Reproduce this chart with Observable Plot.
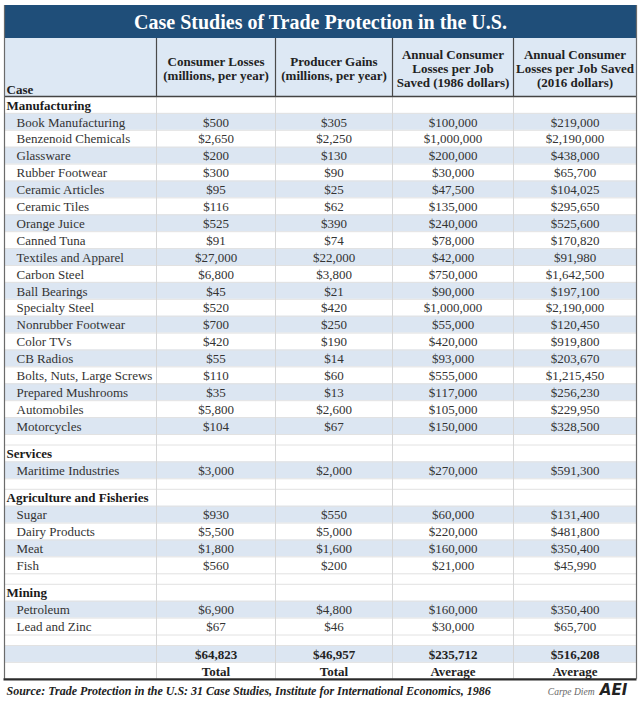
<!DOCTYPE html>
<html><head><meta charset="utf-8">
<script src="https://cdn.jsdelivr.net/npm/d3@7"></script>
<script src="https://cdn.jsdelivr.net/npm/@observablehq/plot@0.6"></script>
<style>body{margin:0;background:#fff} svg{display:block}</style>
</head><body><div id="chart"></div>
<script>
// ---------- data ----------
const chartTitle = "Case Studies of Trade Protection in the U.S.";
const caseHeader = "Case";
const columnHeaders = [
  "Consumer Losses\n(millions, per year)",
  "Producer Gains\n(millions, per year)",
  "Annual Consumer\nLosses per Job\nSaved (1986 dollars)",
  "Annual Consumer\nLosses per Job Saved\n(2016 dollars)"
];
const categories = ["Manufacturing", "Services", "Agriculture and Fisheries", "Mining"];
const caseNames = [
  "Book Manufacturing", "Benzenoid Chemicals", "Glassware", "Rubber Footwear", "Ceramic Articles",
  "Ceramic Tiles", "Orange Juice", "Canned Tuna", "Textiles and Apparel", "Carbon Steel",
  "Ball Bearings", "Specialty Steel", "Nonrubber Footwear", "Color TVs", "CB Radios",
  "Bolts, Nuts, Large Screws", "Prepared Mushrooms", "Automobiles", "Motorcycles",
  "Maritime Industries",
  "Sugar", "Dairy Products", "Meat", "Fish",
  "Petroleum", "Lead and Zinc"
];
const caseCategory = [
  "Manufacturing","Manufacturing","Manufacturing","Manufacturing","Manufacturing",
  "Manufacturing","Manufacturing","Manufacturing","Manufacturing","Manufacturing",
  "Manufacturing","Manufacturing","Manufacturing","Manufacturing","Manufacturing",
  "Manufacturing","Manufacturing","Manufacturing","Manufacturing",
  "Services",
  "Agriculture and Fisheries","Agriculture and Fisheries","Agriculture and Fisheries","Agriculture and Fisheries",
  "Mining","Mining"
];
const consumerLosses = [500, 2650, 200, 300, 95, 116, 525, 91, 27000, 6800, 45, 520, 700, 420, 55, 110, 35, 5800, 104,
  3000, 930, 5500, 1800, 560, 6900, 67];
const producerGains = [305, 2250, 130, 90, 25, 62, 390, 74, 22000, 3800, 21, 420, 250, 190, 14, 60, 13, 2600, 67,
  2000, 550, 5000, 1600, 200, 4800, 46];
const lossPerJob1986 = [100000, 1000000, 200000, 30000, 47500, 135000, 240000, 78000, 42000, 750000, 90000, 1000000,
  55000, 420000, 93000, 555000, 117000, 105000, 150000,
  270000, 60000, 220000, 160000, 21000, 160000, 30000];
const lossPerJob2016 = [219000, 2190000, 438000, 65700, 104025, 295650, 525600, 170820, 91980, 1642500, 197100, 2190000,
  120450, 919800, 203670, 1215450, 256230, 229950, 328500,
  591300, 131400, 481800, 350400, 45990, 350400, 65700];
const summaryValues = [64823, 46957, 235712, 516208];
const summaryLabels = ["Total", "Total", "Average", "Average"];
const sourceNote = "Source: Trade Protection in the U.S: 31 Case Studies, Institute for International Economics, 1986";
const brandNote = "Carpe Diem";
const brandLogo = "AEI";

// ---------- layout ----------
const W = 640, H = 703;
const colEdges = [4, 156, 275, 392, 513, 636];
const colCenter = j => (colEdges[j] + colEdges[j + 1]) / 2;
const titleTop = 5, headTop = 38, bodyTop = 96, rowH = 16.9, gapH = 10.5;
const fmt = d3.format("$,");
const serif = "'Liberation Serif', 'Times New Roman', Times, serif";

const rows = [];
let yy = bodyTop;
categories.forEach((cat, ci) => {
  if (ci > 0) { rows.push({kind: "gap", y1: yy, y2: yy + gapH}); yy += gapH; }
  rows.push({kind: "cat", label: cat, y1: yy, y2: yy + rowH}); yy += rowH;
  let k = 0;
  caseNames.forEach((name, i) => {
    if (caseCategory[i] !== cat) return;
    rows.push({kind: "item", label: name,
      values: [consumerLosses[i], producerGains[i], lossPerJob1986[i], lossPerJob2016[i]],
      shaded: k % 2 === 0, y1: yy, y2: yy + rowH});
    yy += rowH; k++;
  });
});
rows.push({kind: "gap", y1: yy, y2: yy + gapH}); yy += gapH;
rows.push({kind: "sum", values: summaryValues, shaded: true, y1: yy, y2: yy + rowH}); yy += rowH;
rows.push({kind: "sumLabel", labels: summaryLabels, y1: yy, y2: yy + rowH}); yy += rowH;
const bodyBottom = yy;
rows.forEach(r => r.yc = (r.y1 + r.y2) / 2);

const shaded = rows.filter(r => r.shaded);
const boundaries = rows.map(r => r.y2).slice(0, -1);
const itemRows = rows.filter(r => r.kind === "item");
const catRows = rows.filter(r => r.kind === "cat");
const valueCells = itemRows.flatMap(r => r.values.map((v, j) => ({x: colCenter(j + 1), y: r.yc, t: fmt(v)})));
const sumRow = rows.find(r => r.kind === "sum");
const sumLabelRow = rows.find(r => r.kind === "sumLabel");
const sumCells = sumRow.values.map((v, j) => ({x: colCenter(j + 1), y: sumRow.yc, t: fmt(v)}))
  .concat(sumLabelRow.labels.map((l, j) => ({x: colCenter(j + 1), y: sumLabelRow.yc, t: l})));
const headerCells = columnHeaders.map((h, j) => ({x: colCenter(j + 1), t: h}));
const noteY = (bodyBottom + H) / 2 - 0.5;

const chart = Plot.plot({
  width: W, height: H, margin: 0,
  x: {type: "linear", domain: [0, W], range: [0, W], axis: null},
  y: {type: "linear", domain: [0, H], range: [0, H], axis: null},
  style: {background: "#ffffff", fontFamily: serif},
  marks: [
    // title bar
    Plot.rect([chartTitle], {x1: colEdges[0], x2: colEdges[5], y1: titleTop, y2: headTop, fill: "#1F4E79"}),
    Plot.text([chartTitle], {x: W / 2, y: (titleTop + headTop) / 2 + 1, text: d => d, fill: "#ffffff",
      fontSize: 20, fontWeight: "bold", fontFamily: serif}),
    // header band
    Plot.rect([0], {x1: colEdges[0], x2: colEdges[5], y1: headTop, y2: bodyTop, fill: "#DDE8F4"}),
    // shaded rows
    Plot.rect(shaded, {x1: colEdges[0], x2: colEdges[5], y1: "y1", y2: "y2", fill: "#DCE6F2"}),
    // faint body grid
    Plot.ruleY(boundaries, {x1: colEdges[0], x2: colEdges[5], stroke: "#e2e2e2", strokeWidth: 1}),
    Plot.ruleX(colEdges.slice(1, -1), {y1: bodyTop, y2: bodyBottom, stroke: "#d6d6d6", strokeWidth: 1}),
    // header separators
    Plot.ruleX(colEdges.slice(1, -1), {y1: headTop, y2: bodyTop, stroke: "#4a4a4a", strokeWidth: 1.2}),
    Plot.ruleY([bodyTop], {x1: colEdges[0], x2: colEdges[5], stroke: "#444", strokeWidth: 1.4}),
    // outer borders
    Plot.ruleX([colEdges[0], colEdges[5]], {y1: titleTop, y2: bodyBottom, stroke: "#6b6b6b", strokeWidth: 1.2}),
    Plot.ruleY([bodyBottom], {x1: colEdges[0] - 0.5, x2: colEdges[5] + 0.5, stroke: "#2b2b2b", strokeWidth: 2.2}),
    // header texts
    Plot.text([caseHeader], {x: colEdges[0] + 2, y: bodyTop - 7, text: d => d, textAnchor: "start",
      fontSize: 13, fontWeight: "bold", fill: "#222", fontFamily: serif}),
    Plot.text(headerCells, {x: "x", y: 68, text: "t", lineHeight: 1.05,
      fontSize: 13, fontWeight: "bold", fill: "#222", fontFamily: serif}),
    // category rows
    Plot.text(catRows, {x: colEdges[0] + 2, y: d => d.yc + 0.5, text: "label", textAnchor: "start",
      fontSize: 13, fontWeight: "bold", fill: "#1a1a1a", fontFamily: serif}),
    // item names
    Plot.text(itemRows, {x: colEdges[0] + 12, y: d => d.yc + 0.5, text: "label", textAnchor: "start",
      fontSize: 13, fill: "#333", fontFamily: serif}),
    // values
    Plot.text(valueCells, {x: "x", y: d => d.y + 0.5, text: "t", fontSize: 13, fill: "#333", fontFamily: serif}),
    // totals
    Plot.text(sumCells, {x: "x", y: d => d.y + 0.5, text: "t", fontSize: 13, fontWeight: "bold", fill: "#222", fontFamily: serif}),
    // source and brand
    Plot.text([sourceNote], {x: colEdges[0] + 2, y: noteY, text: d => d, textAnchor: "start",
      fontSize: 12, fontWeight: "bold", fontStyle: "italic", fill: "#222", fontFamily: serif}),
    Plot.text([brandNote], {x: 594, y: noteY + 1, text: d => d, textAnchor: "end",
      fontSize: 9.5, fontStyle: "italic", fill: "#666", fontFamily: serif}),
    Plot.text([brandLogo], {x: 613, y: noteY - 1, text: d => d,
      fontSize: 15, fontWeight: "900", fontStyle: "italic", fill: "#222", fontFamily: "'DejaVu Sans', sans-serif"})
  ]
});
document.getElementById("chart").appendChild(chart);
</script>
</body></html>
